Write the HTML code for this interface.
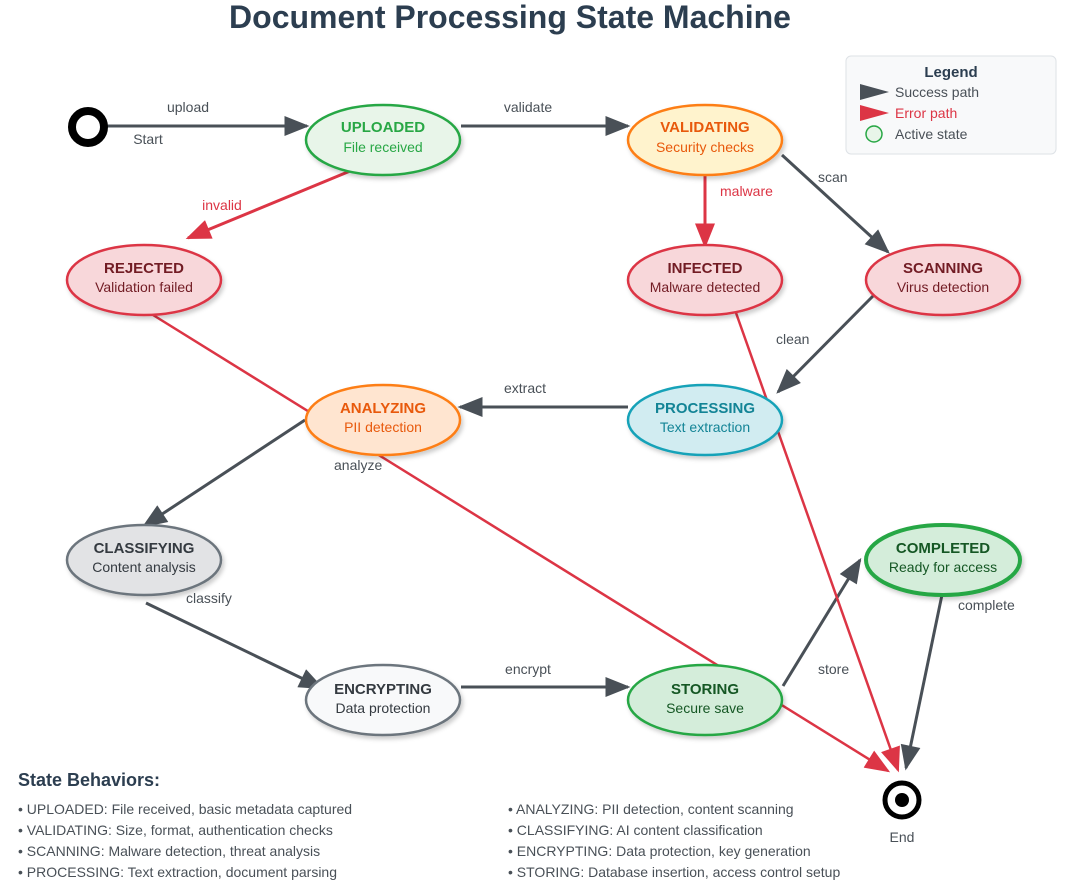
<!DOCTYPE html>
<html><head><meta charset="utf-8"><style>
body{margin:0;background:#fff;font-family:"Liberation Sans",Arial,sans-serif;}
svg{display:block}
</style></head><body>
<svg width="1071" height="886" viewBox="0 0 1071 886" font-family="Liberation Sans, Arial, sans-serif">
<defs>
<marker id="g" markerWidth="10" markerHeight="8" refX="9" refY="4" orient="auto" markerUnits="userSpaceOnUse" viewBox="0 0 10 8"><path d="M0,0 L10,4 L0,8z" fill="#495057"/></marker>
<marker id="gs" viewBox="0 0 10 8" refX="9" refY="4" markerWidth="26" markerHeight="20" orient="auto" markerUnits="userSpaceOnUse"><path d="M0,0 L10,4 L0,8z" fill="#495057"/></marker>
<marker id="rs" viewBox="0 0 10 8" refX="9" refY="4" markerWidth="26" markerHeight="20" orient="auto" markerUnits="userSpaceOnUse"><path d="M0,0 L10,4 L0,8z" fill="#dc3545"/></marker>
<filter id="sh" x="-20%" y="-20%" width="140%" height="150%"><feDropShadow dx="2" dy="3" stdDeviation="2" flood-opacity="0.2"/></filter>
</defs>
<text x="510" y="28" text-anchor="middle" font-size="32" font-weight="bold" fill="#2c3e50">Document Processing State Machine</text>

<!-- edges -->
<g stroke-width="3" fill="none">
<line x1="105" y1="126" x2="307" y2="126" stroke="#495057" marker-end="url(#gs)"/>
<line x1="461" y1="126" x2="628" y2="126" stroke="#495057" marker-end="url(#gs)"/>
<line x1="355" y1="169" x2="188" y2="238" stroke="#dc3545" marker-end="url(#rs)"/>
<line x1="705" y1="173" x2="705" y2="246" stroke="#dc3545" marker-end="url(#rs)"/>
<line x1="782" y1="155" x2="888" y2="252" stroke="#495057" marker-end="url(#gs)"/>
<line x1="873" y1="296" x2="778" y2="392" stroke="#495057" marker-end="url(#gs)"/>
<line x1="628" y1="407" x2="460" y2="407" stroke="#495057" marker-end="url(#gs)"/>
<line x1="305" y1="420" x2="144" y2="526" stroke="#495057" marker-end="url(#gs)"/>
<line x1="146" y1="603" x2="322" y2="688" stroke="#495057" marker-end="url(#gs)"/>
<line x1="461" y1="687" x2="628" y2="687" stroke="#495057" marker-end="url(#gs)"/>
<line x1="783" y1="686" x2="860" y2="560" stroke="#495057" marker-end="url(#gs)"/>
<line x1="943" y1="590" x2="906" y2="768" stroke="#495057" marker-end="url(#gs)"/>
<line x1="145" y1="310" x2="888" y2="771" stroke="#dc3545" stroke-width="2.5" marker-end="url(#rs)"/>
<line x1="735" y1="310" x2="898" y2="770" stroke="#dc3545" stroke-width="2.5" marker-end="url(#rs)"/>
</g>
<g font-size="14" fill="#495057">
<text x="188" y="112" text-anchor="middle">upload</text>
<text x="148" y="144" text-anchor="middle">Start</text>
<text x="528" y="112" text-anchor="middle">validate</text>
<text x="222" y="210" text-anchor="middle" fill="#dc3545">invalid</text>
<text x="720" y="196" fill="#dc3545">malware</text>
<text x="818" y="182">scan</text>
<text x="776" y="344">clean</text>
<text x="525" y="393" text-anchor="middle">extract</text>
<text x="334" y="470">analyze</text>
<text x="186" y="603">classify</text>
<text x="528" y="674" text-anchor="middle">encrypt</text>
<text x="818" y="674">store</text>
<text x="958" y="610">complete</text>
<text x="902" y="842" text-anchor="middle">End</text>
</g>

<!-- start / end -->
<circle cx="88" cy="127" r="16" fill="#fff" stroke="#000" stroke-width="8"/>
<circle cx="902" cy="800" r="17" fill="#fff" stroke="#000" stroke-width="5"/>
<circle cx="902" cy="800" r="7" fill="#000"/>

<!-- nodes -->
<g filter="url(#sh)" stroke-width="2.5">
<ellipse cx="383" cy="140" rx="77" ry="35" fill="#e8f5e9" stroke="#28a745"/>
<ellipse cx="705" cy="140" rx="77" ry="35" fill="#fff3cd" stroke="#fd7e14"/>
<ellipse cx="144" cy="280" rx="77" ry="35" fill="#f8d7da" stroke="#dc3545"/>
<ellipse cx="705" cy="280" rx="77" ry="35" fill="#f8d7da" stroke="#dc3545"/>
<ellipse cx="943" cy="280" rx="77" ry="35" fill="#f8d7da" stroke="#dc3545"/>
<ellipse cx="383" cy="420" rx="77" ry="35" fill="#ffe5d0" stroke="#fd7e14"/>
<ellipse cx="705" cy="420" rx="77" ry="35" fill="#d1ecf1" stroke="#17a2b8"/>
<ellipse cx="144" cy="560" rx="77" ry="35" fill="#e2e3e5" stroke="#6c757d"/>
<ellipse cx="943" cy="560" rx="77" ry="35" fill="#d4edda" stroke="#28a745" stroke-width="4"/>
<ellipse cx="383" cy="700" rx="77" ry="35" fill="#f8f9fa" stroke="#6c757d"/>
<ellipse cx="705" cy="700" rx="77" ry="35" fill="#d4edda" stroke="#28a745"/>
</g>
<g text-anchor="middle" font-size="14">
<text x="383" y="132" font-size="15" font-weight="bold" fill="#28a745">UPLOADED</text><text x="383" y="152" fill="#28a745">File received</text>
<text x="705" y="132" font-size="15" font-weight="bold" fill="#e8590c">VALIDATING</text><text x="705" y="152" fill="#e8590c">Security checks</text>
<text x="144" y="273" font-size="15" font-weight="bold" fill="#721c24">REJECTED</text><text x="144" y="292" fill="#721c24">Validation failed</text>
<text x="705" y="273" font-size="15" font-weight="bold" fill="#721c24">INFECTED</text><text x="705" y="292" fill="#721c24">Malware detected</text>
<text x="943" y="273" font-size="15" font-weight="bold" fill="#721c24">SCANNING</text><text x="943" y="292" fill="#721c24">Virus detection</text>
<text x="383" y="413" font-size="15" font-weight="bold" fill="#e8590c">ANALYZING</text><text x="383" y="432" fill="#e8590c">PII detection</text>
<text x="705" y="413" font-size="15" font-weight="bold" fill="#138496">PROCESSING</text><text x="705" y="432" fill="#138496">Text extraction</text>
<text x="144" y="553" font-size="15" font-weight="bold" fill="#343a40">CLASSIFYING</text><text x="144" y="572" fill="#343a40">Content analysis</text>
<text x="943" y="553" font-size="15" font-weight="bold" fill="#155724">COMPLETED</text><text x="943" y="572" fill="#155724">Ready for access</text>
<text x="383" y="694" font-size="15" font-weight="bold" fill="#343a40">ENCRYPTING</text><text x="383" y="713" fill="#343a40">Data protection</text>
<text x="705" y="694" font-size="15" font-weight="bold" fill="#155724">STORING</text><text x="705" y="713" fill="#155724">Secure save</text>
</g>

<!-- legend -->
<rect x="846" y="56" width="210" height="98" rx="5" fill="#f8f9fa" stroke="#dee2e6"/>
<text x="951" y="77" text-anchor="middle" font-size="15" font-weight="bold" fill="#2c3e50">Legend</text>
<path d="M860,84 L889,92 L860,100z" fill="#495057"/>
<text x="895" y="97" font-size="14" fill="#495057">Success path</text>
<path d="M860,105 L889,113 L860,121z" fill="#dc3545"/>
<text x="895" y="118" font-size="14" fill="#dc3545">Error path</text>
<circle cx="874" cy="134" r="8" fill="#e8f5e9" stroke="#28a745" stroke-width="1.5"/>
<text x="895" y="139" font-size="14" fill="#495057">Active state</text>

<!-- behaviors -->
<text x="18" y="786" font-size="18" font-weight="bold" fill="#2c3e50">State Behaviors:</text>
<g font-size="14" fill="#495057">
<text x="18" y="814">• UPLOADED: File received, basic metadata captured</text>
<text x="18" y="835">• VALIDATING: Size, format, authentication checks</text>
<text x="18" y="856">• SCANNING: Malware detection, threat analysis</text>
<text x="18" y="877">• PROCESSING: Text extraction, document parsing</text>
<text x="508" y="814">• ANALYZING: PII detection, content scanning</text>
<text x="508" y="835">• CLASSIFYING: AI content classification</text>
<text x="508" y="856">• ENCRYPTING: Data protection, key generation</text>
<text x="508" y="877">• STORING: Database insertion, access control setup</text>
</g>
</svg>
</body></html>
